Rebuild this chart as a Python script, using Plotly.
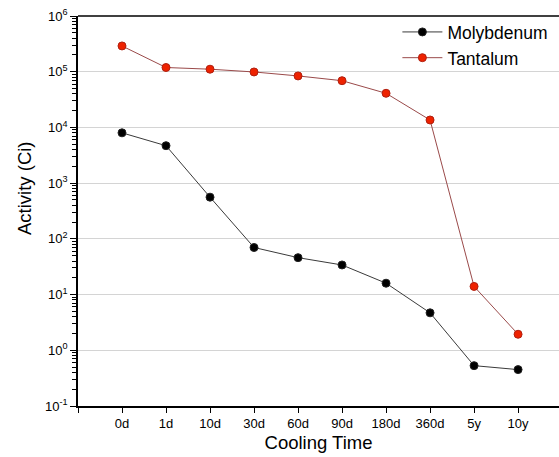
import plotly.graph_objects as go

categories = ["0d", "1d", "10d", "30d", "60d", "90d", "180d", "360d", "5y", "10y"]
molybdenum = [8.0e3, 4.7e3, 560, 70, 46, 34, 16, 4.7, 0.53, 0.45]
tantalum = [2.9e5, 1.19e5, 1.11e5, 9.9e4, 8.4e4, 6.9e4, 4.1e4, 1.36e4, 14, 1.94]
ytick_vals = [0.1, 1, 10, 100, 1e3, 1e4, 1e5, 1e6]
ytick_text = ["10<sup>-1</sup>", "10<sup>0</sup>", "10<sup>1</sup>", "10<sup>2</sup>",
              "10<sup>3</sup>", "10<sup>4</sup>", "10<sup>5</sup>", "10<sup>6</sup>"]

xpos = list(range(len(categories)))
minor_vals = [m * d for d in ytick_vals[:-1] for m in range(2, 10)]

fig = go.Figure()
fig.add_trace(go.Scatter(
    x=xpos, y=molybdenum, name="Molybdenum", mode="lines+markers",
    line=dict(color="#3a3a3a", width=1),
    marker=dict(color="black", size=8, line=dict(color="#222", width=1)),
))
fig.add_trace(go.Scatter(
    x=xpos, y=tantalum, name="Tantalum", mode="lines+markers",
    line=dict(color="#9a4a4a", width=1),
    marker=dict(color="#ee2200", size=8, line=dict(color="#b02010", width=1)),
))

fig.update_layout(
    width=559, height=457,
    margin=dict(l=78, r=0, t=16, b=51),
    paper_bgcolor="white", plot_bgcolor="white",
    font=dict(family="Liberation Sans, Arial", color="black", size=13),
    showlegend=True,
    legend=dict(x=0.664, y=1.005, xanchor="left", yanchor="top",
                font=dict(size=17.5), bgcolor="rgba(0,0,0,0)",
                tracegroupgap=0, itemwidth=40),
    xaxis=dict(
        range=[-1, 9.93],
        tickvals=[-1] + xpos, ticktext=[""] + categories,
        showgrid=False, zeroline=False,
        showline=True, linecolor="black", linewidth=1.5,
        ticks="outside", ticklen=5, tickcolor="black", tickwidth=1,
        title=dict(text="Cooling Time", font=dict(size=18.5), standoff=6),
        tickfont=dict(size=13),
    ),
    yaxis=dict(
        type="log", range=[-1, 6],
        tickvals=ytick_vals, ticktext=ytick_text,
        showgrid=True, gridcolor="#d4d4d4", gridwidth=1,
        zeroline=False,
        showline=True, linecolor="black", linewidth=1.5,
        ticks="outside", ticklen=6, tickcolor="black", tickwidth=1,
        tickfont=dict(size=13),
        minor=dict(tickmode="array", tickvals=minor_vals, ticks="outside",
                   ticklen=4, tickcolor="black", tickwidth=1, showgrid=False),
    ),
    annotations=[dict(
        text="Activity (Ci)", textangle=-90, xref="paper", yref="paper",
        x=(24 - 78) / 481, y=(441 - 223) / 390, xanchor="center", yanchor="middle",
        showarrow=False, font=dict(size=18.5),
    )],
)
fig.add_shape(type="line", xref="paper", yref="paper", x0=0, x1=1, y0=1, y1=1,
              line=dict(color="black", width=1.5))

fig.write_html("out.html")
